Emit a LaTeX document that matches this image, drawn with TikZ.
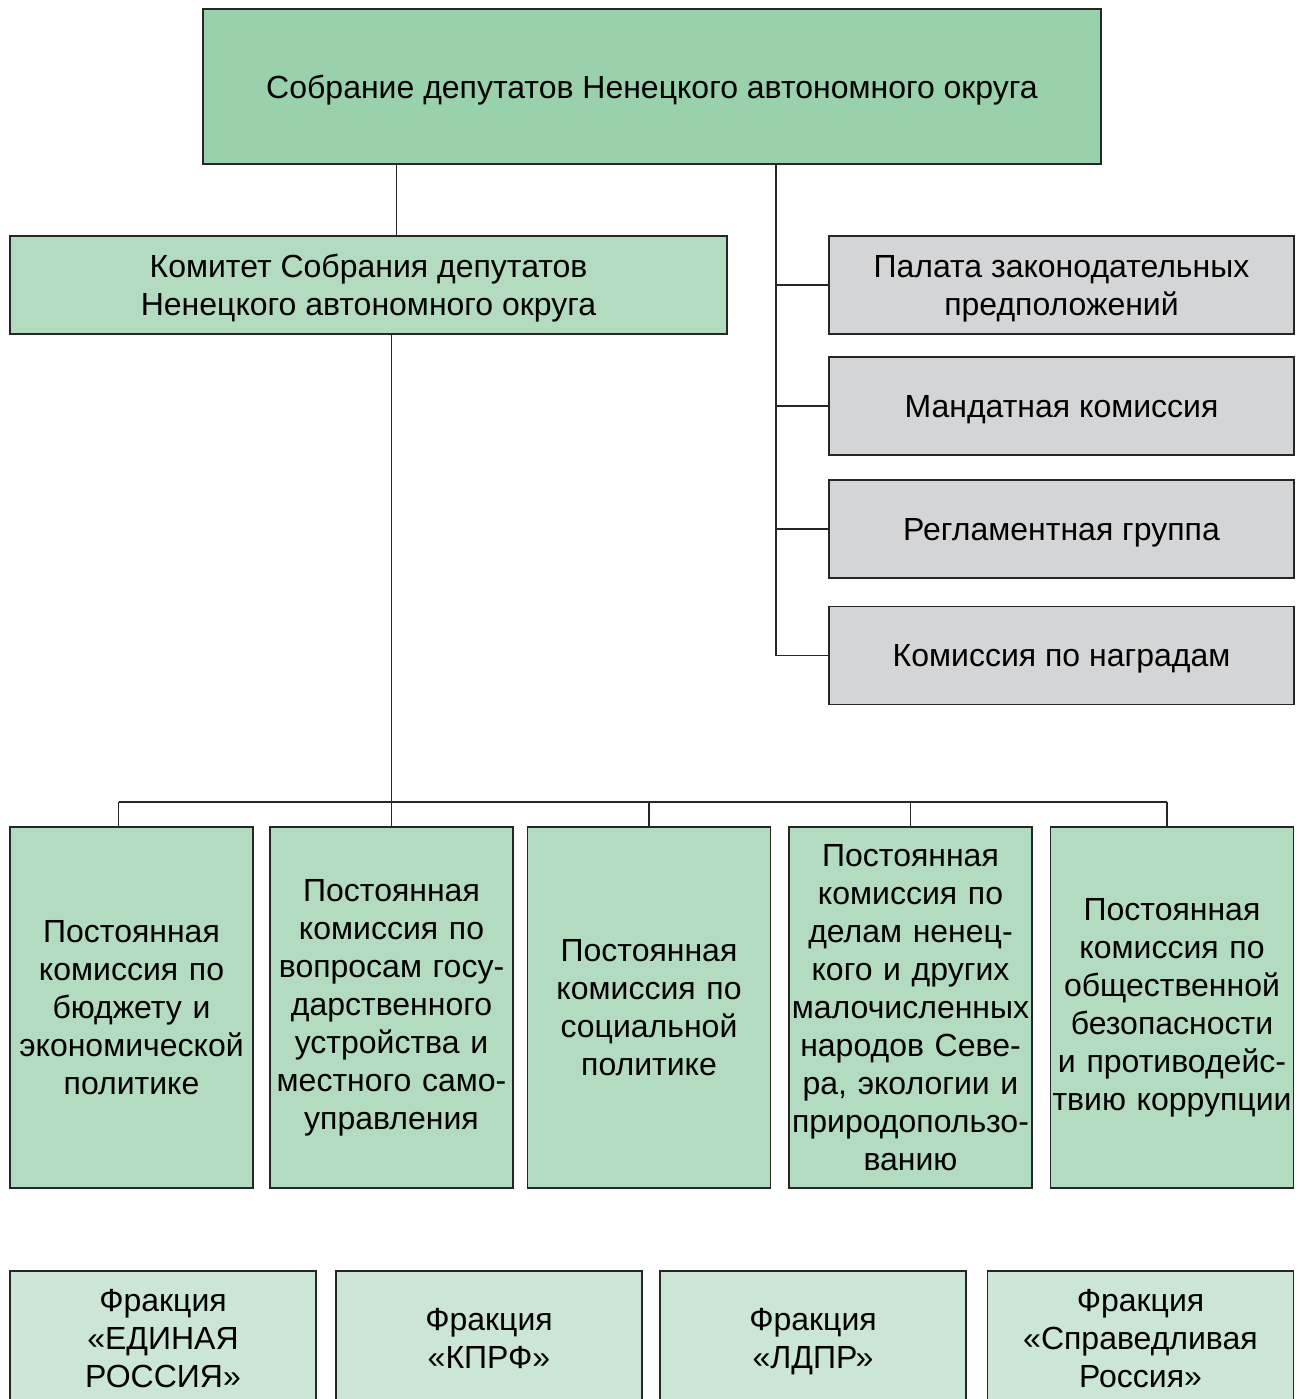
\documentclass[tikz,border=0pt]{standalone}
\usepackage{fontspec}
\setmainfont{Liberation Sans}
\usepackage{tikz}
\usepackage{xcolor}
\usetikzlibrary{positioning,calc}
\definecolor{sobgreen}{HTML}{99D1AD}
\definecolor{komgreen}{HTML}{B2DBC0}
\definecolor{frgreen}{HTML}{CCE6D5}
\definecolor{palgray}{HTML}{D4D5D7}

\begin{document}
\begin{tikzpicture}[x=0.5pt, y=-0.5pt,
  box/.style={draw=black!85,line width=0.7pt,align=center,inner sep=0pt,font=\fontsize{16}{19}\selectfont},
  top/.style={box,fill=sobgreen,minimum width=449pt,minimum height=77.5pt,text depth=0pt},
  kombox/.style={box,fill=komgreen,minimum width=358.5pt,minimum height=49pt,text depth=0pt},
  palbox/.style={box,fill=palgray,minimum width=232.5pt,minimum height=49pt,text depth=0pt},
  combox/.style={box,fill=komgreen,minimum width=121.5pt,text width=121.5pt,minimum height=180.5pt},
  frbox/.style={box,fill=frgreen,minimum width=153pt,minimum height=67pt,text depth=0pt},
  link/.style={line width=0.7pt,black!85}
]
\useasboundingbox (0,0) rectangle (1303,1399);

\node[top] (sob) at (652,86.5) {Собрание депутатов Ненецкого автономного округа};
\node[kombox] (kom) at (368.5,285) {Комитет Собрания депутатов\\Ненецкого автономного округа};

\node[palbox] (g1) at (1061.5,285) {Палата законодательных\\предположений};
\node[palbox] (g2) at (1061.5,406) {Мандатная комиссия};
\node[palbox] (g3) at (1061.5,529) {Регламентная группа};
\node[palbox] (g4) at (1061.5,655.5) {Комиссия по наградам};

\node[combox] (c1) at (131.5,1007.5) {Постоянная\\комиссия по\\бюджету и\\экономической\\политике};
\node[combox] (c2) at (391.5,1007.5) {Постоянная\\комиссия по\\вопросам госу-\\дарственного\\устройства и\\местного само-\\управления};
\node[combox] (c3) at (649,1007.5) {Постоянная\\комиссия по\\социальной\\политике};
\node[combox] (c4) at (910.5,1007.5) {Постоянная\\комиссия по\\делам ненец-\\кого и других\\малочисленных\\народов Севе-\\ра, экологии и\\природопользо-\\ванию};
\node[combox] (c5) at (1172,1007.5) {Постоянная\\комиссия по\\общественной\\безопасности\\и противодейс-\\твию коррупции};

\node[frbox] (f1) at (163,1338) {Фракция\\«ЕДИНАЯ\\РОССИЯ»};
\node[frbox] (f2) at (489,1338) {Фракция\\«КПРФ»};
\node[frbox] (f3) at (813,1338) {Фракция\\«ЛДПР»};
\node[frbox] (f4) at (1140.5,1338) {Фракция\\«Справедливая\\Россия»};

\draw[link] ([xshift=14pt]kom.north) -- ([xshift=14pt]kom.north |- sob.south);

\coordinate (spine) at (776,0);
\draw[link] (spine |- sob.south) -- (spine |- g4.west);
\foreach \g in {g1,g2,g3,g4}
  \draw[link] (spine |- \g.west) -- (\g.west);

\coordinate (bus) at (0,802);
\draw[link] (kom.south -| c2.north) -- (c2.north);
\draw[link] ([xshift=-6.5pt]c1.north |- bus) -- ([xshift=-2.5pt]c5.north |- bus);
\draw[link] ([xshift=-6.5pt]c1.north |- bus) -- ([xshift=-6.5pt]c1.north);
\draw[link] ([xshift=-2.5pt]c5.north |- bus) -- ([xshift=-2.5pt]c5.north);
\foreach \c in {c3,c4}
  \draw[link] (\c.north |- bus) -- (\c.north);
\end{tikzpicture}
\end{document}
